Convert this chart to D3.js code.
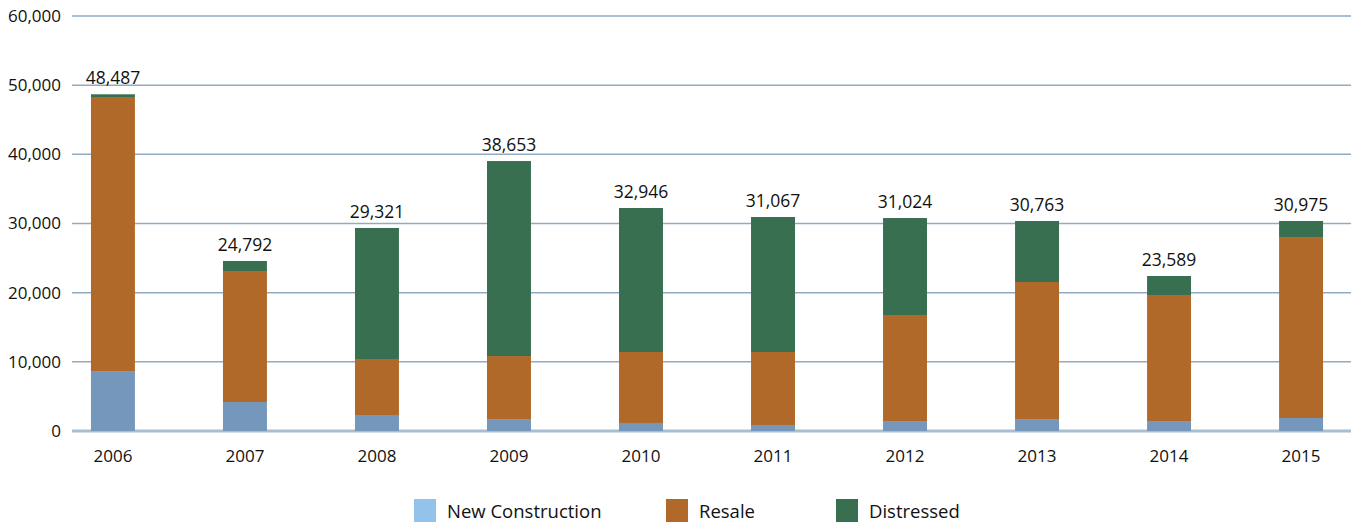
<!DOCTYPE html>
<meta charset="utf-8">
<style>
    body { margin:0; background:#fff; }
    svg text { font-family:'Open Sans', sans-serif; fill:#111; }
</style>
<body>
<script src="https://d3js.org/d3.v7.min.js"></script>
<script>
var width = 1351, height = 523;

// data
var years = ["2006","2007","2008","2009","2010","2011","2012","2013","2014","2015"];
var newConstruction = [8570, 4190, 2310, 1730, 1160, 870, 1340, 1730, 1340, 1880];
var resale = [39720, 18940, 8100, 9110, 10260, 10550, 15430, 19810, 18320, 26170];
var distressed = [390, 1450, 18940, 28190, 20820, 19520, 14020, 8820, 2750, 2310];
var totalLabels = ["48,487","24,792","29,321","38,653","32,946","31,067","31,024","30,763","23,589","30,975"];
var yTicks = [0, 10000, 20000, 30000, 40000, 50000, 60000];

var seriesNames = ["New Construction", "Resale", "Distressed"];
var barColors = ["#7597bc", "#b1692a", "#376f50"];
var legendColors = ["#93c3ea", "#b1692a", "#376f50"];

var rows = years.map(function(y, i) {
    return { year: y, "New Construction": newConstruction[i], "Resale": resale[i], "Distressed": distressed[i], label: totalLabels[i] };
});

var svg = d3.select("body").append("svg")
    .attr("width", width)
    .attr("height", height);

var x = d3.scaleBand().domain(years).range([47, 1367]).paddingInner(0.667).paddingOuter(0.333);
var y = d3.scaleLinear().domain([0, 60000]).range([431, 16]);

// gridlines
svg.append("g").selectAll("line")
    .data(yTicks)
  .enter().append("line")
    .attr("x1", 72).attr("x2", width)
    .attr("y1", function(d) { return y(d); })
    .attr("y2", function(d) { return y(d); })
    .attr("stroke", function(d) { return d === 0 ? "#a9bece" : "#91abc2"; })
    .attr("stroke-width", function(d) { return d === 0 ? 3 : 1.5; });

// y axis labels
var yAxis = d3.axisLeft(y).tickValues(yTicks).tickSize(0).tickPadding(0)
    .tickFormat(d3.format(","));
svg.append("g")
    .attr("transform", "translate(61,0)")
    .call(yAxis)
    .call(function(g) { g.select(".domain").remove(); })
    .selectAll("text")
    .attr("font-size", 17)
    .attr("font-family", "'Open Sans', sans-serif")
    .attr("fill", "#111");

// x axis labels
var xAxis = d3.axisBottom(x).tickSize(0).tickPadding(0);
svg.append("g")
    .attr("transform", "translate(0,450)")
    .call(xAxis)
    .call(function(g) { g.select(".domain").remove(); })
    .selectAll("text")
    .attr("font-size", 17)
    .attr("font-family", "'Open Sans', sans-serif")
    .attr("fill", "#111");

// stacked bars
var stacked = d3.stack().keys(seriesNames)(rows);
svg.append("g").selectAll("g")
    .data(stacked)
  .enter().append("g")
    .attr("fill", function(d, i) { return barColors[i]; })
  .selectAll("rect")
    .data(function(d) { return d; })
  .enter().append("rect")
    .attr("x", function(d) { return x(d.data.year); })
    .attr("width", x.bandwidth())
    .attr("y", function(d) { return y(d[1]); })
    .attr("height", function(d) { return y(d[0]) - y(d[1]); });

// total labels
var topLayer = stacked[stacked.length - 1];
svg.append("g").selectAll("text")
    .data(topLayer)
  .enter().append("text")
    .attr("x", function(d) { return x(d.data.year) + x.bandwidth() / 2; })
    .attr("y", function(d) { return y(d[1]) - 10; })
    .attr("text-anchor", "middle")
    .attr("font-size", 17.5)
    .text(function(d) { return d.data.label; });

// legend
var legendX = [414, 666, 836];
var legend = svg.append("g").selectAll("g")
    .data(seriesNames)
  .enter().append("g")
    .attr("transform", function(d, i) { return "translate(" + legendX[i] + ",499)"; });
legend.append("rect")
    .attr("width", 22).attr("height", 23)
    .attr("fill", function(d, i) { return legendColors[i]; });
legend.append("text")
    .attr("x", 33).attr("y", 19)
    .attr("font-size", 18.5)
    .text(function(d) { return d; });
</script>
</body>
